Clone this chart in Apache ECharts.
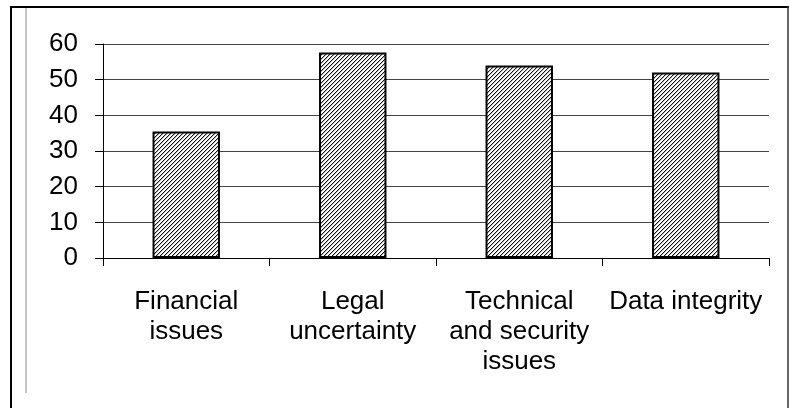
<!DOCTYPE html>
<html>
<head>
<meta charset="utf-8">
<script src="https://cdn.jsdelivr.net/npm/echarts@6/dist/echarts.min.js"></script>
<style>
html,body{margin:0;padding:0;background:#fff;}
#c{width:790px;height:408px;}
</style>
</head>
<body>
<div id="c"></div>
<script>
var categories = ['Financial\nissues', 'Legal\nuncertainty', 'Technical\nand security\nissues', 'Data integrity'];
var values = [35.5, 57.6, 54, 52];
var yTicks = { min: 0, max: 60, interval: 10 };

function hatch() {
  var cv = document.createElement('canvas');
  cv.width = 4; cv.height = 4;
  var ctx = cv.getContext('2d');
  var img = ctx.createImageData(4, 4);
  for (var y = 0; y < 4; y++) {
    for (var x = 0; x < 4; x++) {
      var i = (y * 4 + x) * 4;
      var v = 255;
      if (x === ((3 - y) & 3)) v = 20;
      else if (x === ((4 - y) & 3)) v = 185;
      img.data[i] = v; img.data[i + 1] = v; img.data[i + 2] = v; img.data[i + 3] = 255;
    }
  }
  ctx.putImageData(img, 0, 0);
  return cv;
}

var chart = echarts.init(document.getElementById('c'), null, { renderer: 'canvas' });
var font = 'Liberation Sans, Arial, sans-serif';
chart.setOption({
  animation: false,
  backgroundColor: '#fff',
  grid: { left: 103, right: 21, top: 44, bottom: 150, containLabel: false },
  xAxis: {
    type: 'category',
    data: categories,
    axisLine: { show: true, lineStyle: { color: '#000', width: 1 } },
    axisTick: { show: true, length: 8, lineStyle: { color: '#000', width: 1 } },
    axisLabel: { margin: 29, color: '#000', fontSize: 26, fontFamily: font, lineHeight: 30, interval: 0 },
    splitLine: { show: false }
  },
  yAxis: {
    type: 'value',
    min: yTicks.min, max: yTicks.max, interval: yTicks.interval,
    axisLine: { show: true, lineStyle: { color: '#000', width: 1 } },
    axisTick: { show: true, length: 8, lineStyle: { color: '#000', width: 1 } },
    axisLabel: { margin: 25, color: '#000', fontSize: 26, fontFamily: font },
    splitLine: { show: true, lineStyle: { color: '#444', width: 1 } }
  },
  series: [{
    type: 'bar',
    data: values,
    barWidth: '40.5%',
    itemStyle: {
      color: { image: hatch(), repeat: 'repeat' },
      borderColor: '#000',
      borderWidth: 2
    }
  }],
  graphic: [
    { type: 'line', shape: { x1: 11, y1: 6, x2: 11, y2: 408 }, style: { stroke: '#000', lineWidth: 2 } },
    { type: 'line', shape: { x1: 10, y1: 7, x2: 789, y2: 7 }, style: { stroke: '#000', lineWidth: 2 } },
    { type: 'line', shape: { x1: 788, y1: 6, x2: 788, y2: 408 }, style: { stroke: '#333', lineWidth: 1.5 } },
    { type: 'line', shape: { x1: 26, y1: 8, x2: 26, y2: 393 }, style: { stroke: '#888', lineWidth: 1 } }
  ]
});
</script>
</body>
</html>
